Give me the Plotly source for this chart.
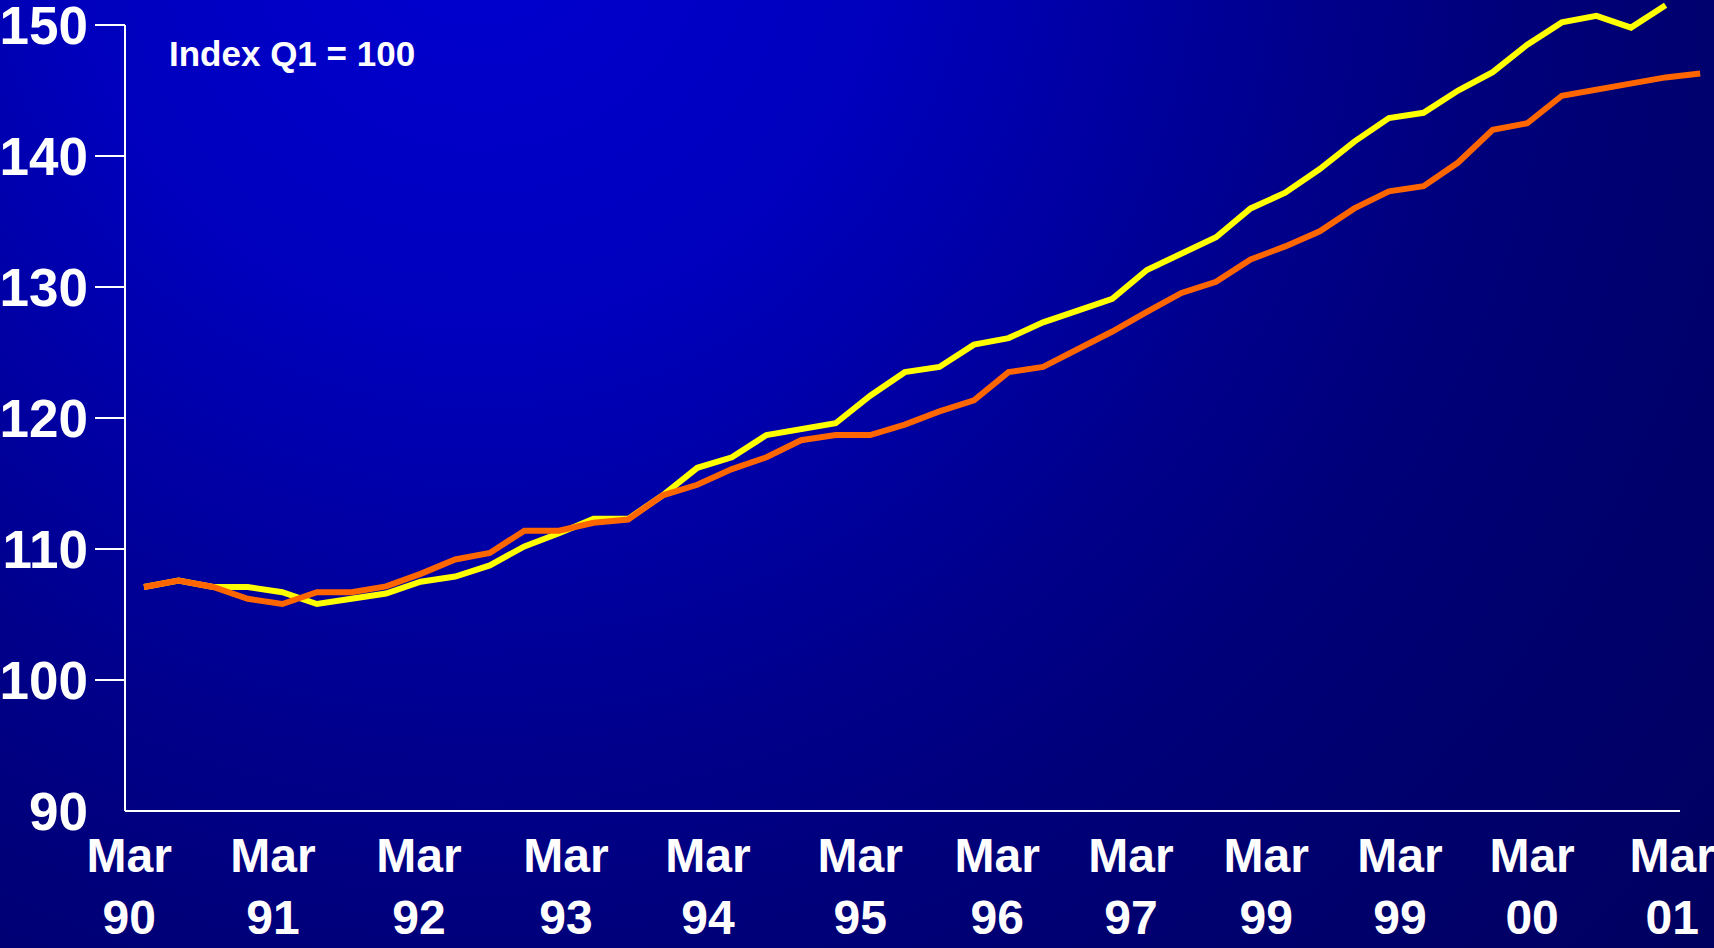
import base64
import plotly.graph_objects as go

# ---------------- data ----------------
quarter_index = list(range(46))

series_yellow = [107.1, 107.6, 107.1, 107.1, 106.7, 105.8, 106.2, 106.6, 107.5, 107.9,
                 108.75, 110.2, 111.2, 112.3, 112.3, 114.1, 116.2, 117.0, 118.7, 119.2,
                 119.6, 121.7, 123.5, 123.9, 125.6, 126.1, 127.3, 128.2, 129.1, 131.3,
                 132.6, 133.8, 136.0, 137.2, 139.0, 141.1, 142.9, 143.3, 145.0, 146.4,
                 148.5, 150.2, 150.7, 149.8, 151.5]

series_orange = [107.1, 107.6, 107.1, 106.2, 105.8, 106.7, 106.7, 107.15, 108.1, 109.2,
                 109.7, 111.4, 111.4, 112.0, 112.25, 114.1, 114.9, 116.1, 117.0, 118.3,
                 118.7, 118.7, 119.5, 120.5, 121.35, 123.5, 123.9, 125.2, 126.6, 128.1,
                 129.55, 130.4, 132.1, 133.1, 134.25, 136.0, 137.3, 137.7, 139.5, 142.0,
                 142.5, 144.6, 145.1, 145.6, 146.0, 146.3]

label_positions = [-0.43, 3.73, 7.95, 12.20, 16.31, 20.71, 24.67, 28.54, 32.45, 36.32, 40.14, 44.19]
label_months = ["Mar"] * 12
label_years = ["90", "91", "92", "93", "94", "95", "96", "97", "99", "99", "00", "01"]

y_tick_values = [90, 100, 110, 120, 130, 140, 150]
y_marked_ticks = [100, 110, 120, 130, 140, 150]

annotation_text = "Index Q1 = 100"

# ---------------- geometry / style ----------------
W, H = 1714, 948
ML, MR, MT, MB = 125, 0, 0, 137
PW, PH = W - ML - MR, H - MT - MB
PX_PER_UNIT = 13.1
Y_RANGE = [90, 90 + PH / PX_PER_UNIT]
X_RANGE = [-0.549, 45.40]

FONT = "Liberation Sans"


def ypaper(v):
    return (v - Y_RANGE[0]) / (Y_RANGE[1] - Y_RANGE[0])


svg = (
    f'<svg xmlns="http://www.w3.org/2000/svg" width="{W}" height="{H}" '
    f'viewBox="0 0 {W} {H}" preserveAspectRatio="none">'
    '<defs><radialGradient id="g" gradientUnits="userSpaceOnUse" cx="480" cy="-80" r="1600">'
    '<stop offset="0" stop-color="#0000d0"/>'
    '<stop offset="0.25" stop-color="#0000be"/>'
    '<stop offset="0.38" stop-color="#0000a6"/>'
    '<stop offset="0.52" stop-color="#00008c"/>'
    '<stop offset="0.66" stop-color="#000078"/>'
    '<stop offset="0.78" stop-color="#00006e"/>'
    '<stop offset="1" stop-color="#000060"/>'
    '</radialGradient></defs>'
    f'<rect width="{W}" height="{H}" fill="url(#g)"/></svg>'
)
bg_src = "data:image/svg+xml;base64," + base64.b64encode(svg.encode()).decode()

fig = go.Figure()
fig.add_trace(go.Scatter(
    x=quarter_index[:len(series_yellow)], y=series_yellow, mode="lines",
    line=dict(color="#FFFF00", width=6), showlegend=False, hoverinfo="skip"))
fig.add_trace(go.Scatter(
    x=quarter_index[:len(series_orange)], y=series_orange, mode="lines",
    line=dict(color="#FF6600", width=6), showlegend=False, hoverinfo="skip"))

shapes = [
    dict(type="line", xref="paper", yref="paper", x0=0, x1=0, y0=0, y1=ypaper(150),
         line=dict(color="white", width=2)),
    dict(type="line", xref="paper", yref="paper", x0=0, x1=(1680 - ML) / PW, y0=0, y1=0,
         line=dict(color="white", width=2)),
]
for v in y_marked_ticks:
    shapes.append(dict(type="line", xref="paper", yref="paper", x0=-30 / PW, x1=0,
                       y0=ypaper(v), y1=ypaper(v), line=dict(color="white", width=2)))

fig.update_layout(
    width=W, height=H,
    margin=dict(l=ML, r=MR, t=MT, b=MB, pad=0, autoexpand=False),
    paper_bgcolor="#000070",
    plot_bgcolor="rgba(0,0,0,0)",
    hovermode=False,
    images=[dict(source=bg_src, xref="paper", yref="paper", x=-(ML + 4) / PW, y=1 + (MT + 4) / PH,
                 sizex=(W + 8) / PW, sizey=(H + 8) / PH, xanchor="left", yanchor="top",
                 sizing="stretch", layer="below")],
    shapes=shapes,
    xaxis=dict(range=X_RANGE, showgrid=False, zeroline=False, showline=False, ticks="",
               tickmode="array", tickvals=label_positions,
               ticktext=[f"{m}<br>{y}" for m, y in zip(label_months, label_years)],
               tickfont=dict(family=FONT, size=48, color="white", weight="bold"),
               ticklabelstandoff=12, tickangle=0, ticklabeloverflow="allow",
               automargin=False),
    yaxis=dict(range=Y_RANGE, showgrid=False, zeroline=False, showline=False, ticks="",
               tickmode="array", tickvals=y_tick_values,
               ticktext=[str(v) for v in y_tick_values],
               tickfont=dict(family=FONT, size=53, color="white", weight="bold"),
               ticklabelstandoff=36, ticklabeloverflow="allow", automargin=False),
    annotations=[dict(text=annotation_text, xref="paper", yref="paper",
                      x=(167 - ML) / PW, y=1 - 53 / PH, xanchor="left", yanchor="middle",
                      showarrow=False,
                      font=dict(family=FONT, size=35, color="white", weight="bold"))],
)

fig.write_html("out.html", config={"displayModeBar": False},
               post_script="document.body.style.margin='0';document.body.style.overflow='hidden';")
